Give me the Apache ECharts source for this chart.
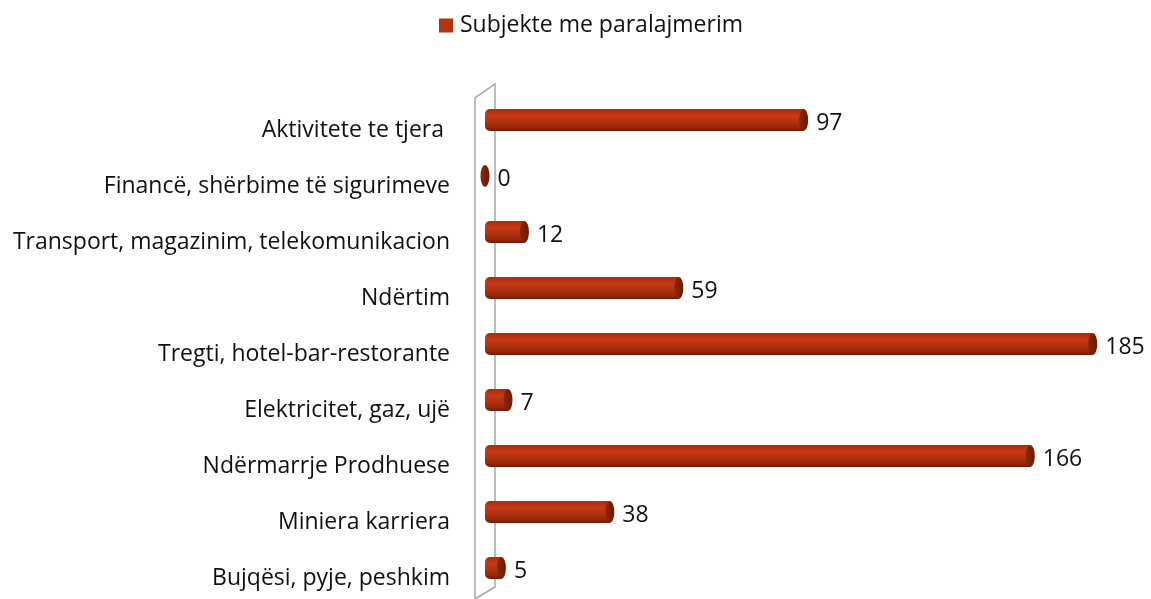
<!DOCTYPE html>
<html>
<head>
<meta charset="utf-8">
<script src="https://cdn.jsdelivr.net/npm/echarts@6/dist/echarts.min.js"></script>
<style>
  html, body { margin: 0; padding: 0; background: #ffffff; }
  #main { width: 1151px; height: 599px; }
</style>
</head>
<body>
<div id="main"></div>
<script>
// sektoret, nga lart poshte
var categories = [
  'Aktivitete te tjera ',
  'Financë, shërbime të sigurimeve',
  'Transport, magazinim, telekomunikacion',
  'Ndërtim',
  'Tregti, hotel-bar-restorante',
  'Elektricitet, gaz, ujë',
  'Ndërmarrje Prodhuese',
  'Miniera karriera',
  'Bujqësi, pyje, peshkim'
];
var subjekte = [97, 0, 12, 59, 185, 7, 166, 38, 5];
var seriesName = 'Subjekte me paralajmerim';

var FONT = 'Open Sans';
var gridLeft = 485, gridTop = 92, gridBottom = 3, gridRight = 9;

var chart = echarts.init(document.getElementById('main'), null, { renderer: 'canvas' });

// cilindri - gradient vertikal
var bodyColor = new echarts.graphic.LinearGradient(0, 0, 0, 1, [
  { offset: 0, color: '#a52c0c' },
  { offset: 0.3, color: '#c43b16' },
  { offset: 0.55, color: '#b5330f' },
  { offset: 0.85, color: '#92270a' },
  { offset: 1, color: '#6e1d06' }
]);
var capColor = new echarts.graphic.LinearGradient(0, 0, 1, 0, [
  { offset: 0, color: '#8e260a' },
  { offset: 1, color: '#6a1b06' }
]);

var option = {
  backgroundColor: '#ffffff',
  animation: false,
  legend: {
    top: 9,
    left: 434,
    itemWidth: 14,
    itemHeight: 14,
    icon: 'rect',
    data: [{ name: seriesName, itemStyle: { color: '#b5330f' } }],
    textStyle: { fontFamily: FONT, fontSize: 23, color: '#111', padding: [0, 0, 0, 2] }
  },
  grid: { left: gridLeft, right: gridRight, top: gridTop, bottom: gridBottom, containLabel: false },
  xAxis: {
    type: 'value',
    min: 0,
    max: 200,
    show: false
  },
  yAxis: {
    type: 'category',
    inverse: true,
    data: categories,
    axisLine: { show: false },
    axisTick: { show: false },
    axisLabel: {
      margin: 35,
      fontFamily: FONT,
      fontSize: 23,
      color: '#111',
      // etiketat pak me poshte se shiritat (perspektiva 3D)
      verticalAlign: 'top',
      lineHeight: 21
    }
  },
  series: [{
    name: seriesName,
    type: 'bar',
    data: subjekte,
    barWidth: 22,
    itemStyle: { color: bodyColor, borderRadius: [5, 0, 0, 5] },
    z: 2
  }, {
    name: seriesName,
    type: 'pictorialBar',
    data: subjekte,
    symbol: 'circle',
    symbolSize: [9, 22],
    symbolPosition: 'end',
    symbolOffset: ['50%', 0],
    itemStyle: { color: capColor },
    label: {
      show: true,
      position: 'right',
      distance: 8,
      offset: [0, 3],
      fontFamily: FONT,
      fontSize: 23,
      color: '#111',
      formatter: function (p) { return subjekte[p.dataIndex]; }
    },
    z: 3
  }],
  // muri 3D ne te majte
  graphic: [{
    type: 'polyline',
    shape: { points: [[475, 599], [475, 98], [495, 84], [495, 587], [475, 599]] },
    style: { stroke: '#a6a6a6', fill: 'none', lineWidth: 1.5 },
    z: 1
  }]
};

chart.setOption(option);
</script>
</body>
</html>
